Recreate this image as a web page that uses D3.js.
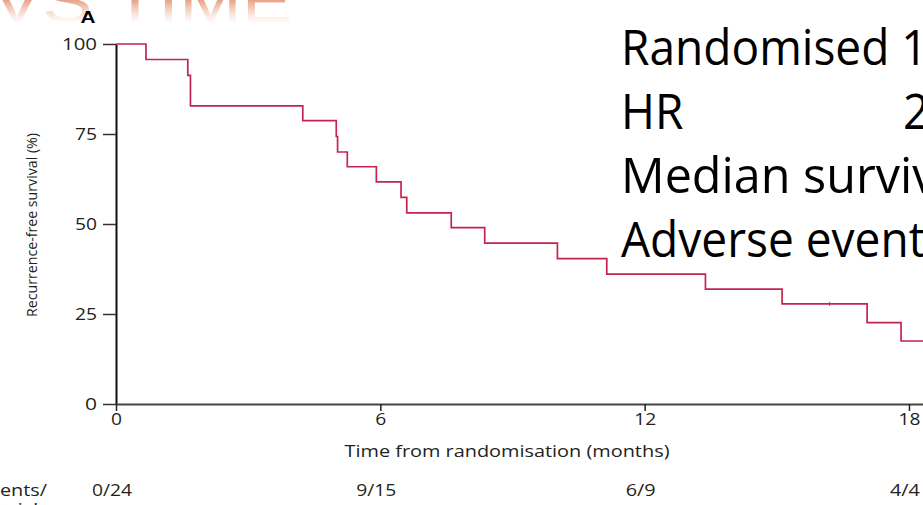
<!DOCTYPE html>
<html>
<head>
<meta charset="utf-8">
<script src="https://cdn.jsdelivr.net/npm/d3@7"></script>
<style>
  html, body { margin: 0; padding: 0; background: #ffffff; overflow: hidden; }
  svg { display: block; }
</style>
</head>
<body>
<svg id="chart" width="923" height="505"></svg>
<script>
// Kaplan–Meier curve: time of each step (months) and survival after it (%)
const eventMonths = [0, 0.68, 1.63, 1.69, 4.24, 5.00, 5.03, 5.25, 5.91, 6.47, 6.60, 7.61, 8.37, 10.02, 11.14, 13.38, 15.12, 17.05, 17.82, 18.5];
const survivalPct = [100, 95.7, 91.3, 82.8, 78.7, 74.3, 70.0, 65.9, 61.7, 57.4, 53.1, 49.0, 44.7, 40.4, 36.1, 31.9, 27.8, 22.6, 17.5, 17.5];

// censored observations
const censoredMonths = [16.2];
const censoredPct = [27.8];

// axes
const xTicks = [0, 6, 12, 18];
const yTicks = [0, 25, 50, 75, 100];
const xTitle = "Time from randomisation (months)";
const yTitle = "Recurrence-free survival (%)";

// events / number at risk under each x tick
const atRiskLabels = ["0/24", "9/15", "6/9", "4/4"];
const atRiskHeader = ["Events/", "at risk"];

// slide notes beside the chart
const noteLines = ["Randomised 1", "HR", "Median survival", "Adverse events"];
const hrValue = "2";
const panelLetter = "A";
const slideTitle = "VS TIME";

const svg = d3.select("#chart");
const chartFont = "'Open Sans', 'Noto Sans', sans-serif";
const ink = "#231f20";

const x = d3.scaleLinear().domain([0, 18.5]).range([116, 931]);
const y = d3.scaleLinear().domain([0, 100]).range([404, 44]);

// faded slide heading along the top edge
const defs = svg.append("defs");
const fade = defs.append("linearGradient")
  .attr("id", "fade").attr("gradientUnits", "userSpaceOnUse")
  .attr("x1", 0).attr("y1", 0).attr("x2", 0).attr("y2", 24);
fade.append("stop").attr("offset", 0).attr("stop-color", "#e08a66").attr("stop-opacity", 0.8);
fade.append("stop").attr("offset", 1).attr("stop-color", "#f2c3ae").attr("stop-opacity", 0);

svg.append("text")
  .attr("x", -8).attr("y", 22)
  .attr("font-family", "'Liberation Sans', Arial, sans-serif")
  .attr("font-size", 62)
  .attr("textLength", 300).attr("lengthAdjust", "spacingAndGlyphs")
  .attr("fill", "url(#fade)")
  .text(slideTitle);

// panel letter
svg.append("text")
  .attr("x", 88).attr("y", 23)
  .attr("text-anchor", "middle")
  .attr("font-family", "'Liberation Sans', Arial, sans-serif")
  .attr("font-weight", "bold").attr("font-size", 16)
  .attr("textLength", 15).attr("lengthAdjust", "spacingAndGlyphs")
  .attr("fill", "#000")
  .text(panelLetter);

// y axis
const yAxis = svg.append("g")
  .attr("transform", `translate(${x(0)},0)`)
  .call(d3.axisLeft(y).tickValues(yTicks).tickSize(13).tickPadding(6).tickSizeOuter(0));
yAxis.select(".domain").attr("stroke", "#111").attr("stroke-width", 2);
yAxis.selectAll(".tick line").attr("stroke", "#333").attr("stroke-width", 1.5);
yAxis.selectAll(".tick text")
  .attr("font-family", chartFont).attr("font-size", 16).attr("fill", ink)
  .attr("lengthAdjust", "spacingAndGlyphs")
  .attr("textLength", d => String(d).length === 3 ? 35 : String(d).length === 2 ? 22 : 12);

// x axis
const xAxis = svg.append("g")
  .attr("transform", `translate(0,${y(0)})`)
  .call(d3.axisBottom(x).tickValues(xTicks).tickSize(7).tickPadding(3).tickSizeOuter(0));
xAxis.select(".domain").attr("stroke", "#444").attr("stroke-width", 2);
xAxis.selectAll(".tick line").attr("stroke", "#222").attr("stroke-width", 1.5);
xAxis.selectAll(".tick text")
  .attr("font-family", chartFont).attr("font-size", 16).attr("fill", ink)
  .attr("lengthAdjust", "spacingAndGlyphs")
  .attr("textLength", d => String(d).length === 2 ? 22 : 11);

// axis titles
svg.append("text")
  .attr("x", 507).attr("y", 457)
  .attr("text-anchor", "middle")
  .attr("font-family", chartFont).attr("font-size", 16).attr("fill", ink)
  .attr("textLength", 325).attr("lengthAdjust", "spacingAndGlyphs")
  .text(xTitle);

svg.append("text")
  .attr("transform", "translate(37,225) rotate(-90)")
  .attr("text-anchor", "middle")
  .attr("font-family", chartFont).attr("font-size", 15).attr("fill", ink)
  .attr("textLength", 184).attr("lengthAdjust", "spacingAndGlyphs")
  .text(yTitle);

// survival curve
const line = d3.line()
  .x((d, i) => x(eventMonths[i]))
  .y(d => y(d))
  .curve(d3.curveStepAfter);

svg.append("path")
  .datum(survivalPct)
  .attr("fill", "none")
  .attr("stroke", "#c4254f")
  .attr("stroke-width", 1.7)
  .attr("d", line);

// censor marks
svg.selectAll(".censor")
  .data(censoredMonths)
  .join("line")
  .attr("class", "censor")
  .attr("x1", d => x(d)).attr("x2", d => x(d))
  .attr("y1", (d, i) => y(censoredPct[i]) - 2)
  .attr("y2", (d, i) => y(censoredPct[i]) + 2)
  .attr("stroke", "#c4254f").attr("stroke-width", 1);

// events / number at risk
svg.selectAll(".risk")
  .data(atRiskLabels)
  .join("text")
  .attr("class", "risk")
  .attr("x", (d, i) => x(xTicks[i]) - 4)
  .attr("y", 496)
  .attr("text-anchor", "middle")
  .attr("font-family", chartFont).attr("font-size", 16).attr("fill", ink)
  .attr("textLength", d => d.length * 10)
  .attr("lengthAdjust", "spacingAndGlyphs")
  .text(d => d);

// row header, its left part running off the page edge
svg.selectAll(".riskhead")
  .data(atRiskHeader)
  .join("text")
  .attr("class", "riskhead")
  .attr("x", (d, i) => i === 0 ? 47 : 44)
  .attr("y", (d, i) => 496 + i * 19)
  .attr("text-anchor", "end")
  .attr("font-family", chartFont).attr("font-size", 16).attr("fill", ink)
  .attr("textLength", (d, i) => i === 0 ? 68 : 60)
  .attr("lengthAdjust", "spacingAndGlyphs")
  .text(d => d);

// slide notes on the right
svg.selectAll(".note")
  .data(noteLines)
  .join("text")
  .attr("class", "note")
  .attr("transform", (d, i) => `translate(621,${65 + i * 64}) scale(${i === 2 ? 0.99 : 0.94},1)`)
  .attr("font-family", chartFont).attr("font-size", 49).attr("fill", "#000")
  .text(d => d);

svg.append("text")
  .attr("transform", "translate(903,129) scale(0.94,1)")
  .attr("font-family", chartFont).attr("font-size", 49).attr("fill", "#000")
  .text(hrValue);
</script>
</body>
</html>
